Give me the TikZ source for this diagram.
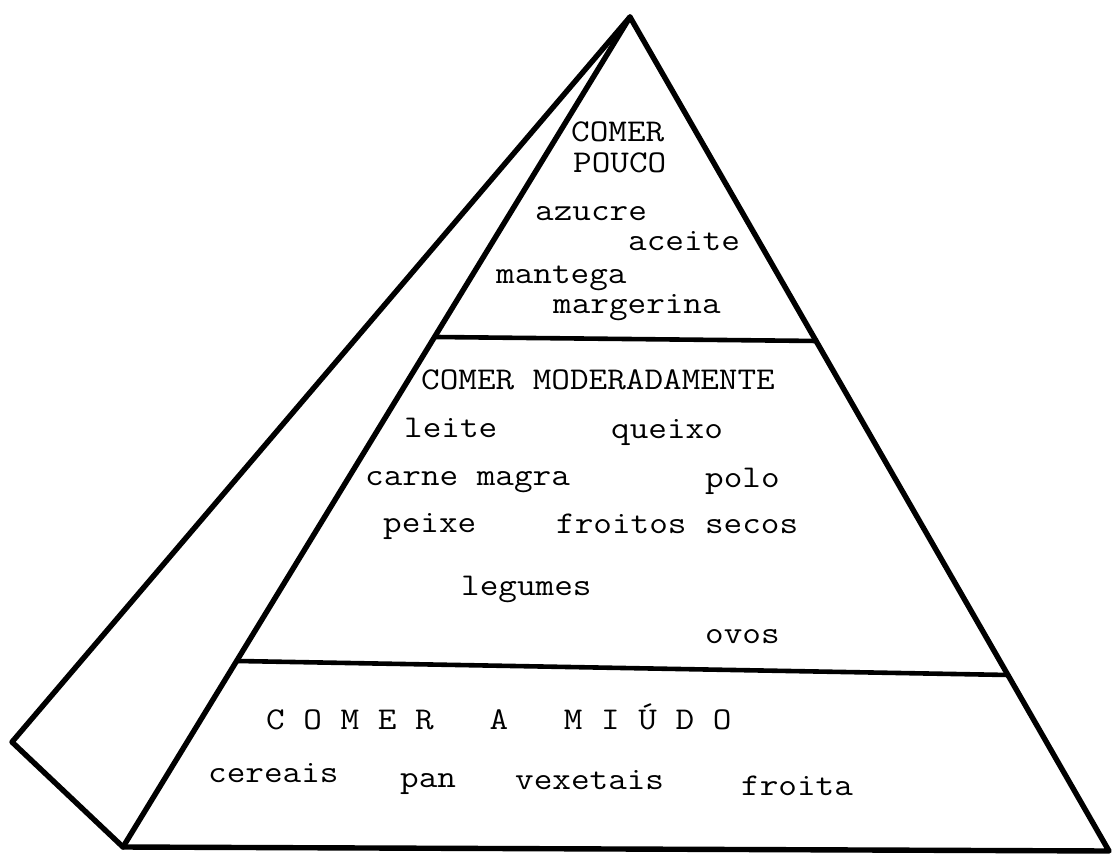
\documentclass[tikz,border=0pt]{standalone}
\usepackage{fontspec}
\newfontfamily\typew[FakeStretch=1.14]{Latin Modern Mono}
\begin{document}
\begin{tikzpicture}[x=1pt,y=-1pt,
  edge/.style={line width=5.4pt, line join=round, line cap=round},
  shelf/.style={line width=4.6pt, line cap=butt},
  lbl/.style={anchor=base west, inner sep=0pt, font=\typew\fontsize{31.7}{32}\selectfont}]
\useasboundingbox (0,0) rectangle (1113,856);
% corners
\coordinate (apex) at (630,17);
\coordinate (back) at (12,742);
\coordinate (bl) at (123,847);
\coordinate (br) at (1109,851);
\coordinate (s1l) at (436,337);
\coordinate (s1r) at (818,341);
\coordinate (s2l) at (238,661);
\coordinate (s2r) at (1009,675);
% outline
\draw[edge] (apex) -- (back) -- (bl) -- (br) -- cycle;
\draw[edge] (apex) -- (bl);
% shelves
\draw[shelf] (s1l) -- (s1r);
\draw[shelf] (s2l) -- (s2r);
% top tier
\node[lbl] (t1) at (571,142) {COMER};
\node[lbl] (t2) at (573,172) {POUCO};
\node[lbl] (t3) at (535,220) {azucre};
\node[lbl] (t4) at (628,250) {aceite};
\node[lbl] (t5) at (496,283) {mantega};
\node[lbl] (t6) at (553,313) {margerina};
% middle tier
\node[lbl] (m0) at (421,389) {COMER MODERADAMENTE};
\node[lbl] (m1) at (404,437) {leite};
\node[lbl] (m2) at (611,438) {queixo};
\node[lbl] (m3) at (365,485) {carne magra};
\node[lbl] (m4) at (705,487) {polo};
\node[lbl] (m5) at (383,532) {peixe};
\node[lbl] (m6) at (556,533) {froitos secos};
\node[lbl] (m7) at (461,595) {legumes};
\node[lbl] (m8) at (705,643) {ovos};
% bottom tier
\node[lbl] (b0) at (266,729) {C~O~M~E~R~~~A~~~M~I~Ú~D~O};
\node[lbl] (b1) at (208,782) {cereais};
\node[lbl] (b2) at (400,787) {pan};
\node[lbl] (b3) at (515,789) {vexetais};
\node[lbl] (b4) at (741,795) {froita};
\end{tikzpicture}
\end{document}
